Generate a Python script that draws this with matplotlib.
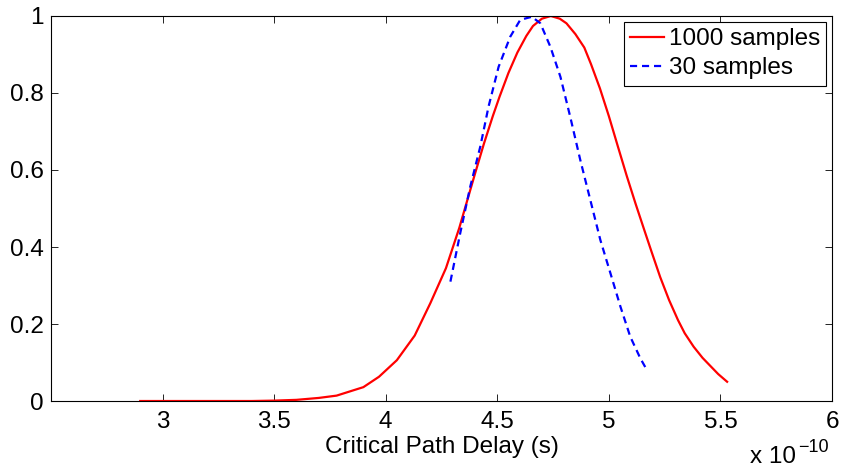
import matplotlib

matplotlib.use("Agg")
import matplotlib.pyplot as plt

# critical path delay in units of 1e-10 s, normalised density
delay_1000 = [2.9, 3.0, 3.1, 3.2, 3.3, 3.4, 3.5, 3.6, 3.7, 3.78, 3.9, 3.97, 4.05,
              4.13, 4.2, 4.27, 4.33, 4.36, 4.40, 4.44, 4.48, 4.51, 4.55, 4.59,
              4.63, 4.66, 4.70, 4.74, 4.78, 4.81, 4.85, 4.89, 4.92, 4.96, 5.0,
              5.04, 5.08, 5.12, 5.16, 5.19, 5.23, 5.27, 5.31, 5.34, 5.38, 5.42,
              5.46, 5.49, 5.53]
dens_1000 = [0.0, 0.0, 0.0, 0.0, 0.0, 0.0, 0.001, 0.003, 0.008, 0.014, 0.036,
             0.063, 0.106, 0.17, 0.254, 0.345, 0.45, 0.51, 0.59, 0.668, 0.74,
             0.79, 0.852, 0.905, 0.948, 0.974, 0.993, 1.0, 0.993, 0.981, 0.953,
             0.918, 0.875, 0.812, 0.74, 0.662, 0.585, 0.512, 0.442, 0.39, 0.322,
             0.262, 0.21, 0.176, 0.141, 0.112, 0.088, 0.07, 0.05]

delay_30 = [4.29, 4.334, 4.379, 4.424, 4.461, 4.506, 4.558, 4.603, 4.655, 4.693,
            4.738, 4.783, 4.827, 4.872, 4.917, 4.962, 5.007, 5.052, 5.096,
            5.141, 5.171]
dens_30 = [0.31, 0.436, 0.557, 0.661, 0.765, 0.868, 0.946, 0.99, 0.998, 0.981,
           0.92, 0.842, 0.738, 0.626, 0.522, 0.418, 0.332, 0.245, 0.167, 0.111,
           0.08]

x_ticks = [3, 3.5, 4, 4.5, 5, 5.5, 6]
y_ticks = [0, 0.2, 0.4, 0.6, 0.8, 1]


def _main():
    plt.rcParams["font.family"] = ["Liberation Sans", "DejaVu Sans"]
    fs = 17.5

    fig = plt.figure(figsize=(8.41, 4.73), dpi=100)
    ax = fig.add_axes([0.0606, 0.1522, 0.9287, 0.814])

    ax.plot(delay_1000, dens_1000, color="#ff0000", linewidth=1.6,
            label="1000 samples")
    ax.plot(delay_30, dens_30, color="#0000ff", linewidth=1.6,
            linestyle=(0, (3.2, 2.2)), label="30 samples")

    ax.set_xlim(2.5, 6)
    ax.set_ylim(0, 1)
    ax.set_xticks(x_ticks)
    ax.set_xticklabels(["3", "3.5", "4", "4.5", "5", "5.5", "6"])
    ax.set_yticks(y_ticks)
    ax.set_yticklabels(["0", "0.2", "0.4", "0.6", "0.8", "1"])
    ax.tick_params(direction="in", top=True, right=True, length=5,
                   width=0.6, labelsize=fs)
    ax.tick_params(axis="x", pad=7)
    ax.tick_params(axis="y", pad=5)
    for s in ax.spines.values():
        s.set_linewidth(0.8)

    ax.set_xlabel("Critical Path Delay (s)", fontsize=fs, labelpad=2)

    # MATLAB style exponent label below the right end of the x axis
    ax.text(0.954, -0.161, "x 10", transform=ax.transAxes,
            ha="right", va="baseline", fontsize=fs)
    ax.text(0.956, -0.132, "\u221210", transform=ax.transAxes,
            ha="left", va="baseline", fontsize=13)

    leg = ax.legend(loc="upper right", fontsize=fs, fancybox=False,
                    framealpha=1, edgecolor="black", handlelength=1.4,
                    handletextpad=0.2, borderpad=0.25, labelspacing=0.3,
                    borderaxespad=0.25)
    leg.get_frame().set_linewidth(0.8)

    plt.savefig("out.png", dpi=100)


if __name__ == "__main__":
    _main()
